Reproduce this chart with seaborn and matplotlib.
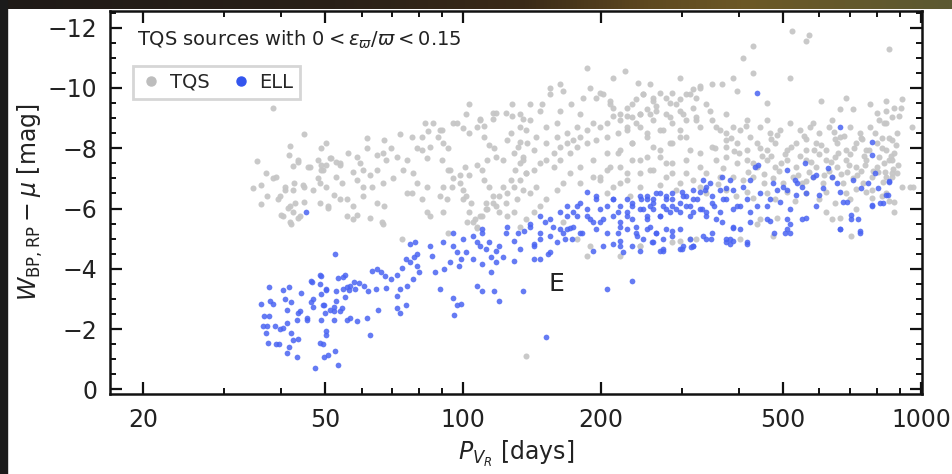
import numpy as np
import pandas as pd
import seaborn as sns
import matplotlib.pyplot as plt
from matplotlib.lines import Line2D
from matplotlib.patches import Rectangle
from matplotlib.ticker import FixedLocator, NullFormatter, FixedFormatter
from matplotlib.colors import LinearSegmentedColormap

# (period [days], W_BP,RP - mu [mag])
tqs_short = [
    (38.4, -9.34), (45, -8.46), (35.5, -7.57), (37.1, -7.18), (36.2, -6.79), (34.8, -6.69), (39, -7.05),
    (40.9, -6.72), (37.3, -6.43), (36.2, -6.16), (39.8, -6.4), (42.5, -6.62), (44.7, -6.79), (45, -6.23),
    (41.8, -6.07), (42.5, -5.9), (40.4, -5.74), (41.8, -5.54), (44, -5.74), (41.8, -8.07), (41.6, -7.77),
    (43.5, -7.61), (42.5, -7.41), (46.3, -7.38), (48.2, -7.61), (49, -8.0), (50.3, -8.16), (51.2, -7.67),
    (49, -7.28), (48.2, -7.0), (50.3, -6.72), (48.7, -6.2), (50.6, -6.07), (52.3, -6.46), (52.9, -7.05),
    (53.8, -7.44), (56, -7.84), (58.6, -7.7), (59.5, -7.51), (57.4, -7.21), (60.4, -7.28), (58.6, -6.95),
    (62.6, -7.11), (64.8, -7.28), (61.6, -8.0), (64.8, -7.77), (66.8, -7.84), (68, -7.61), (61.6, -8.33),
    (67.3, -8.26), (69.5, -8.0), (72.8, -8.46), (77.3, -8.36), (71.7, -7.7), (75.4, -7.61), (74, -7.28),
    (77.6, -7.18), (70.3, -7.0), (66.8, -6.85), (63.4, -6.72), (60.4, -6.72), (60.4, -6.4), (54.3, -6.85),
    (55.7, -6.3), (57.4, -6.07), (58.6, -5.8), (57.4, -5.64), (64.8, -6.2), (67.3, -6.07), (62.6, -5.7),
    (66.5, -5.54), (79.3, -8.0), (81.5, -7.93), (83.3, -7.67), (84.6, -8.03), (81.5, -8.36), (82.5, -8.82),
    (86, -8.82), (84, -8.56), (89, -8.59), (88, -8.36), (92.6, -8.0), (90.4, -8.16), (79.3, -6.85),
    (77.3, -6.52), (83.3, -6.72), (81.5, -6.3), (84.6, -5.74), (83.3, -5.87), (89, -6.4), (90.4, -5.87),
    (75.4, -6.52), (92.6, -7.28), (95, -7.0), (94.5, -6.72), (98.4, -6.85), (92.6, -5.2), (73.5, -4.98),
    (66.8, -5.5), (43.7, -7.54), (45.9, -7.38), (38.4, -7.0), (40.9, -6.62), (42.8, -6.85), (45, -6.72),
    (47, -6.62), (48.7, -6.85), (49.5, -7.28), (49, -7.44), (50.3, -7.44), (51.5, -7.67), (52.9, -7.54),
    (53.8, -7.51), (53.8, -6.3), (50.6, -6.03), (39.4, -6.3), (43, -6.2), (41.4, -6.03), (40, -5.8),
    (43.7, -5.7), (42, -5.5), (55.8, -5.74), (90, -8.59), (95, -8.82), (90, -7.61), (93.6, -7.28),
    (90.4, -6.72), (92, -6.3),
]

tqs_upper = [
    (100, -6.62), (101.6, -6.4), (104, -6.2), (103, -5.87), (106, -5.64), (107.5, -5.4), (102, -5.54),
    (100, -6.3), (98.4, -7.11), (101, -7.38), (103, -7.11), (107, -7.44), (110, -7.28), (112.5, -7.61),
    (111, -6.95), (114, -6.72), (116, -6.4), (112, -6.2), (118, -6.07), (120, -5.87), (124, -6.2),
    (122, -6.72), (127, -6.95), (130, -7.28), (133, -7.51), (137, -7.18), (135, -7.7), (129, -7.84),
    (122, -7.61), (118, -7.7), (114, -8.1), (111, -8.36), (107, -8.69), (103, -8.52), (100, -8.66),
    (97, -8.82), (101.6, -9.15), (109, -8.92), (111, -8.75), (116, -8.98), (118, -9.18), (124, -9.18),
    (128, -9.48), (128, -9.08), (135, -8.98), (133, -8.69), (127, -8.52), (117, -8.0), (133, -8.2),
    (138, -8.16), (135, -6.62), (131, -6.3), (129, -5.9), (125, -5.74), (113, -5.97), (110, -5.74),
    (107, -5.37), (103, -9.48), (109, -8.98), (116, -9.18),
    (155, -10.0), (163, -10.13), (155, -9.8), (165, -9.9), (189, -10.0), (199, -9.84), (195, -9.67),
    (209, -9.57), (213, -9.34), (228, -9.34), (239, -9.64), (247, -9.8), (260, -9.67), (269, -9.84),
    (286, -9.84), (307, -9.8), (317, -9.97), (322, -9.67), (297, -9.64), (283, -9.5), (264, -9.4),
    (252, -9.3), (243, -9.15), (234, -9.02), (228, -9.08), (220, -8.92), (213, -9.08), (206, -8.85),
    (199, -8.69), (192, -8.82), (186, -8.59), (180, -8.36), (174, -8.26), (169, -8.16), (163, -8.03),
    (158, -7.84), (152, -7.61), (147, -7.51), (143, -7.28), (137, -7.18), (133, -6.95), (129, -6.72),
    (125, -6.52), (120, -6.4), (116, -6.2), (112, -5.97), (109, -5.74), (105, -5.54), (125, -8.26),
    (133, -9.15), (140, -8.92), (147, -9.25), (137, -8.59), (144, -8.36), (152, -8.69), (160, -8.82),
    (169, -8.49), (177, -8.69), (180, -9.15), (172, -9.48), (183, -9.67), (163, -9.25), (149, -9.48),
    (140, -9.48), (132, -8.03), (135, -7.61), (143, -7.93), (152, -8.16), (160, -8.36), (158, -7.38),
    (163, -7.61), (171, -7.84), (177, -8.03), (186, -8.16), (195, -8.26), (206, -8.36), (218, -8.49),
    (228, -8.59), (243, -8.69), (260, -8.92), (278, -9.15), (297, -9.25), (317, -9.34), (340, -9.48),
    (286, -8.82), (269, -8.59), (252, -8.36), (234, -8.16), (220, -7.93), (206, -7.84), (192, -7.61),
    (180, -7.38), (171, -7.18), (165, -6.85), (160, -6.62), (152, -6.3), (147, -6.07), (143, -5.87),
    (137, -5.64), (133, -5.4), (140, -6.52), (144, -6.72), (180, -6.85), (192, -7.05), (206, -7.28),
    (220, -7.38), (234, -7.61), (252, -7.7), (269, -7.93), (286, -8.16), (307, -8.36), (329, -8.69),
    (350, -8.92), (376, -9.15), (307, -8.92), (322, -9.02), (256, -9.15), (239, -8.82), (297, -8.59),
    (199, -6.95), (213, -6.72), (228, -6.95), (243, -7.18), (260, -7.28), (278, -7.51), (286, -7.18),
    (307, -7.61), (329, -7.84), (350, -8.03), (376, -8.26), (364, -8.59), (388, -8.69),
    (202, -9.8), (209, -9.48), (220, -9.15), (234, -9.48), (247, -9.8), (260, -9.57), (278, -9.67),
    (292, -9.48), (313, -9.8), (329, -10.0), (243, -9.15), (264, -9.25), (283, -9.02), (302, -9.15),
    (322, -8.92), (346, -9.25), (228, -8.69), (252, -8.49), (273, -8.59), (297, -8.36), (234, -8.16),
    (260, -8.03), (283, -8.16), (313, -7.93), (218, -7.84), (243, -7.61), (269, -7.7), (286, -7.51),
    (209, -7.38), (228, -7.18), (256, -7.28), (278, -7.05), (220, -6.85), (243, -6.72), (269, -6.79),
    (292, -6.62), (329, -6.72), (340, -6.52), (206, -6.52), (199, -7.05), (231, -6.4),
]

tqs_lower = [
    (357, -8.69), (376, -8.49), (402, -8.59), (423, -8.36), (444, -8.69), (467, -8.49), (491, -8.59),
    (517, -8.82), (543, -8.59), (571, -8.69), (600, -8.49), (631, -8.69), (664, -8.36), (698, -8.69),
    (734, -8.49), (772, -8.69), (811, -8.92), (840, -8.82), (866, -9.02), (840, -9.25), (417, -8.92),
    (460, -8.92), (580, -8.82), (640, -8.92), (376, -8.03), (396, -8.16), (417, -7.93), (438, -8.16),
    (460, -7.93), (480, -8.16), (510, -7.93), (534, -8.16), (562, -7.93), (590, -8.16), (620, -7.93),
    (655, -8.16), (685, -7.93), (722, -8.16), (760, -7.93), (800, -8.16), (840, -7.93), (866, -8.26),
    (357, -7.61), (376, -7.7), (396, -7.51), (417, -7.61), (438, -7.38), (460, -7.61), (480, -7.38),
    (510, -7.61), (534, -7.38), (562, -7.61), (590, -7.38), (620, -7.61), (655, -7.38), (685, -7.61),
    (722, -7.38), (760, -7.61), (800, -7.38), (832, -7.51), (866, -7.61), (329, -7.38), (340, -7.18),
    (307, -7.18), (317, -6.95), (297, -6.85), (364, -7.05), (388, -7.05), (408, -6.95), (430, -7.05),
    (453, -6.85), (474, -7.01), (499, -6.85), (525, -7.05), (551, -6.85), (580, -7.05), (610, -6.85),
    (640, -7.05), (675, -6.85), (710, -7.01), (747, -6.85), (780, -7.05), (825, -6.89), (866, -7.05),
    (376, -6.62), (417, -6.56), (460, -6.52), (510, -6.56), (562, -6.52), (620, -6.56), (685, -6.52),
    (760, -6.56), (840, -6.52), (910, -6.72), (945, -6.72), (960, -6.7),
    (474, -5.08), (444, -5.64), (484, -5.7), (722, -5.97), (705, -5.08), (664, -5.7), (875, -5.9),
    (640, -5.64), (438, -5.48), (402, -4.98), (313, -4.98), (243, -4.75), (297, -4.92), (620, -5.87),
    (780, -6.62), (840, -7.05), (866, -7.18), (165, -5.54), (177, -4.98), (189, -4.75), (186, -4.43),
    (220, -4.43), (243, -4.75), (286, -4.9), (322, -4.98),
    (390, -7.9), (450, -7.75), (505, -7.8), (545, -7.75), (600, -7.8), (650, -7.7), (700, -7.8),
    (750, -7.75), (420, -7.2), (490, -7.25), (570, -7.2), (630, -7.25), (690, -7.2), (740, -7.25),
    (805, -7.2), (470, -8.3), (560, -8.3), (650, -8.3), (740, -8.35), (820, -8.35),
    (355, -8.0), (370, -7.35), (385, -8.35), (400, -7.85), (415, -8.75), (430, -7.5), (445, -8.0),
    (455, -7.15), (470, -7.75), (485, -8.45), (495, -7.5), (520, -8.05), (540, -7.1), (555, -8.4),
    (575, -7.55), (585, -7.95), (605, -8.1), (615, -7.1), (635, -7.55), (645, -8.55), (660, -7.85),
    (670, -7.15), (680, -8.4), (695, -7.45), (715, -8.0), (725, -7.1), (745, -8.3), (755, -7.45),
    (770, -7.95), (785, -7.25), (795, -8.5), (810, -7.7), (820, -8.0), (835, -7.2), (850, -8.35),
    (860, -7.75), (870, -7.3), (880, -8.1), (890, -7.45), (430, -6.35), (480, -6.3), (530, -6.25),
    (600, -6.3), (650, -6.2), (700, -6.3), (780, -6.35), (850, -6.25), (560, -6.9), (720, -6.65),
    (360, -6.8), (395, -6.4),
]

tqs_outliers = [
    (186, -10.66), (226, -10.56), (212, -10.33), (241, -10.16), (256, -10.13), (297, -10.33),
    (329, -10.07), (350, -10.13), (367, -10.13), (388, -10.33), (430, -10.5), (517, -10.33),
    (396, -9.9), (460, -9.5), (606, -9.57), (685, -9.67), (772, -9.48), (840, -9.57), (910, -9.64),
    (664, -9.3), (710, -9.3), (800, -9.18), (875, -9.34), (897, -9.08), (522, -11.9), (560, -11.57),
    (568, -11.74), (853, -11.3), (430, -11.4), (408, -10.98), (137, -1.1), (905, -9.34), (955, -8.72),
    (832, -8.85), (885, -8.49), (875, -7.84), (853, -7.61), (885, -7.18), (875, -6.23), (820, -6.4),
]

ell_short = [
    (52.6, -4.5), (37.7, -3.4), (40.4, -3.3), (41.6, -3.4), (46.5, -3.6), (48.7, -3.8), (48.7, -3.5),
    (50.3, -3.3), (53.2, -3.7), (55.2, -3.8), (55.8, -3.4), (40.9, -3.0), (44.2, -3.2), (47.0, -3.0),
    (36.2, -2.85), (37.9, -2.95), (38.4, -2.85), (42.0, -2.9), (49.5, -2.8), (51.2, -2.65), (52.9, -2.95),
    (55.2, -3.05), (41.2, -2.65), (43.7, -2.55), (46.5, -2.9), (36.7, -2.45), (37.7, -2.45), (43.3, -2.3),
    (45.6, -2.3), (49.0, -2.3), (52.3, -2.3), (55.8, -2.3), (36.5, -2.1), (37.3, -2.1), (38.8, -2.1),
    (39.8, -2.0), (40.4, -2.05), (41.2, -2.2), (37.1, -1.87), (42.0, -1.87), (42.5, -1.64), (43.7, -1.67),
    (50.3, -1.8), (37.5, -1.54), (39.0, -1.5), (39.6, -1.5), (41.6, -1.4), (41.2, -1.2), (43.3, -1.08),
    (48.7, -1.54), (49.7, -1.08), (52.6, -1.28), (53.4, -0.82), (47.4, -0.72), (52.3, -2.6), (50.0, -2.55),
    (54.3, -2.7), (56.3, -3.3), (45.4, -5.9), (44, -2.6), (45.6, -2.36), (47, -2.75), (49, -3.18),
    (50.3, -1.93), (49.5, -1.5), (50.6, -1.15),
    (46.8, -3.57), (49, -3.77), (54.6, -3.74), (56.6, -3.44), (57.7, -3.57), (59.2, -3.54), (63.2, -3.93),
    (64.8, -4.0), (66.1, -3.9), (67.6, -3.77), (69.5, -3.67), (71.7, -3.8), (73.5, -4.03), (75, -4.33),
    (76.5, -4.23), (78, -4.4), (79.3, -4.1), (80, -3.9), (77.6, -3.67), (75.4, -3.44), (72.8, -3.34),
    (71.7, -3.1), (68, -3.38), (64.4, -3.34), (61.9, -3.25), (60.8, -3.44), (58.2, -3.34), (54.6, -3.34),
    (52.9, -3.25), (50.3, -3.34), (49.7, -2.8), (52.3, -2.75), (53.8, -2.6), (56.6, -2.36), (58.6, -2.26),
    (61.6, -2.36), (65.2, -2.62), (71.7, -2.69), (72.8, -2.52), (75, -2.79), (62.6, -1.8), (78.5, -4.9),
    (79.3, -4.5), (86.8, -3.9), (89, -3.34), (90.8, -4.0), (95, -3.02), (96.9, -2.79), (98.8, -2.85),
    (95.5, -2.46), (90.4, -4.9), (95, -4.75), (98.8, -4.33), (96.9, -4.56), (84.6, -4.75), (85.5, -4.43),
    (76.5, -4.82), (93.6, -4.23), (98, -4.1), (95, -5.2),
]

ell_mid = [
    (101.6, -4.56), (105, -4.33), (100, -4.98), (107, -4.9), (110, -5.2), (112, -4.66), (115, -4.4),
    (118, -4.23), (115, -3.9), (107, -3.44), (110, -3.25), (117, -3.28), (120, -2.95), (135, -3.25),
    (120, -4.75), (124, -5.2), (129, -4.92), (125, -5.4), (132, -5.2), (133, -4.66), (140, -5.4),
    (143, -4.82), (147, -5.2), (147, -5.74), (151, -5.54), (155, -5.08), (153, -4.5), (143, -4.33),
    (157, -5.4), (163, -5.87), (169, -6.07), (165, -5.2), (171, -5.37), (173, -4.98), (177, -5.74),
    (182, -5.2), (186, -6.56), (195, -6.4), (189, -5.64), (199, -5.54), (206, -6.07), (212, -6.3),
    (218, -5.87), (220, -5.4), (228, -5.74), (234, -6.07), (239, -5.4), (252, -6.3), (206, -3.34),
    (234, -3.6), (152, -1.74), (105, -5.08), (110, -5.31), (109, -4.75), (114, -4.9), (118, -4.6),
    (136, -5.25), (140, -5.48), (147, -4.98), (143, -4.75), (163, -5.31), (160, -4.9), (167, -4.98),
    (155, -4.56), (147, -4.33), (129, -4.26), (122, -4.4), (110, -4.16), (177, -6.07), (155, -5.64),
    (340, -6.72), (329, -6.56), (317, -6.3), (302, -6.4), (286, -6.52), (278, -6.3), (269, -6.52),
    (260, -6.3), (243, -6.4), (234, -6.2), (228, -6.3), (220, -6.07), (213, -6.3), (199, -5.97),
    (195, -6.3), (186, -5.97), (180, -6.2), (174, -5.87), (169, -5.74), (186, -5.74), (192, -5.54),
    (202, -5.64), (213, -5.74), (220, -5.54), (228, -5.87), (234, -5.64), (243, -5.97), (252, -5.74),
    (260, -5.97), (269, -5.74), (278, -5.97), (286, -6.07), (297, -5.87), (307, -6.07), (317, -5.87),
    (329, -5.97), (340, -5.74), (350, -6.2), (364, -5.87), (376, -6.3), (388, -5.97), (174, -5.4),
    (180, -5.2), (169, -5.31), (195, -5.31), (206, -5.2), (218, -5.2), (228, -5.31), (239, -5.2),
    (252, -5.31), (264, -5.2), (278, -5.31), (286, -5.08), (220, -4.92), (234, -4.75), (213, -4.82),
    (202, -4.75), (192, -4.6), (224, -4.56), (243, -4.6), (260, -4.9), (269, -4.6), (297, -4.66),
    (317, -4.75), (340, -4.98), (350, -5.2), (376, -4.98), (388, -5.4), (220, -4.75), (376, -4.9),
    (417, -4.9), (477, -5.2),
]

ell_long = [
    (780, -8.2), (780, -7.77), (795, -7.18), (805, -6.69), (845, -6.46), (850, -6.89), (780, -6.13),
    (815, -6.2), (765, -6.85), (740, -6.69), (710, -6.95), (690, -6.23), (675, -6.23), (664, -6.56),
    (655, -6.85), (640, -7.05), (625, -7.34), (610, -6.69), (600, -6.46), (590, -6.07), (705, -5.8),
    (705, -5.64), (728, -5.64), (664, -5.31), (734, -5.2), (580, -7.05), (590, -7.1), (557, -7.5),
    (551, -6.72), (562, -6.52), (534, -6.46), (537, -6.85), (530, -6.95), (510, -7.28), (510, -6.62),
    (499, -6.72), (491, -6.23), (517, -5.97), (510, -5.64), (551, -5.64), (562, -5.7), (510, -5.31),
    (517, -5.48), (504, -5.2), (484, -6.62), (474, -6.85), (467, -6.3), (460, -6.07), (467, -5.57),
    (444, -6.52), (438, -6.07), (433, -7.38), (440, -7.44), (423, -6.95), (423, -5.87), (417, -6.3),
    (408, -6.72), (402, -6.07), (396, -6.07), (388, -6.62), (382, -6.95), (376, -6.69), (367, -7.05),
    (364, -6.62), (369, -6.3), (353, -6.07), (350, -6.4), (346, -6.85), (337, -6.62), (334, -6.95),
    (332, -5.97), (340, -5.87), (324, -6.3), (317, -6.62), (313, -6.07), (313, -5.74), (307, -6.4),
    (300, -6.56), (297, -6.2), (292, -5.97), (286, -6.3), (283, -5.87), (278, -6.4), (273, -6.07),
    (269, -5.74), (264, -6.52), (260, -6.2), (256, -6.07), (252, -5.64), (247, -5.97), (245, -6.3),
    (252, -6.4), (256, -5.4), (264, -5.2), (273, -4.98), (258, -4.9), (273, -4.66), (286, -5.25),
    (297, -5.31), (313, -4.98), (302, -4.75), (317, -4.75), (334, -5.08), (348, -4.98), (382, -4.82),
    (382, -4.98), (388, -4.92), (417, -4.82), (402, -5.31), (388, -5.37), (367, -5.54), (357, -5.64),
    (423, -5.54), (462, -5.64), (517, -5.2), (438, -9.84), (667, -8.7), (853, -6.9), (780, -6.07),
    (825, -6.2), (667, -5.31), (734, -5.25), (840, -6.46), (240, -5.08), (247, -4.98), (273, -4.6),
    (300, -4.66), (315, -4.72),
]

x_major = [20, 50, 100, 200, 500, 1000]
x_minor = [30, 40, 60, 70, 80, 90, 300, 400, 600, 700, 800, 900]

tqs = pd.DataFrame(tqs_short + tqs_upper + tqs_lower + tqs_outliers, columns=['P', 'W'])
ell = pd.DataFrame(ell_short + ell_mid + ell_long, columns=['P', 'W'])

sns.set_style('ticks')
plt.rcParams['font.family'] = ['DejaVu Sans']
plt.rcParams['mathtext.fontset'] = 'dejavusans'

fig = plt.figure(figsize=(9.53, 4.74), dpi=100)
ax = fig.add_axes([110 / 953, 1 - 394 / 474, 812 / 953, 383 / 474])

gray = '#c6c6c6'
blue = '#4a64f2'
sns.scatterplot(data=tqs, x='P', y='W', ax=ax, color=gray, s=19, linewidth=0, alpha=0.95, legend=False)
sns.scatterplot(data=ell, x='P', y='W', ax=ax, color=blue, s=17, linewidth=0, alpha=0.85, legend=False)

ax.set_xscale('log')
ax.set_xlim(16.94, 1005)
ax.set_ylim(0.15, -12.55)
ax.xaxis.set_major_locator(FixedLocator(x_major))
ax.xaxis.set_major_formatter(FixedFormatter([str(v) for v in x_major]))
ax.xaxis.set_minor_locator(FixedLocator(x_minor))
ax.xaxis.set_minor_formatter(NullFormatter())
ax.yaxis.set_major_locator(FixedLocator(np.arange(0, -13, -2)))
ax.yaxis.set_minor_locator(FixedLocator(np.arange(0, -13, -0.5)))

for s in ax.spines.values():
    s.set_linewidth(1.8)
    s.set_color('#111111')
ax.tick_params(which='both', direction='in', top=True, right=True, colors='#111111', labelcolor='#222222')
ax.tick_params(which='major', length=8.5, width=1.6, labelsize=17)
ax.tick_params(which='minor', length=4.5, width=1.4)
ax.tick_params(axis='x', which='major', pad=10)
ax.tick_params(axis='y', which='major', pad=9)

ax.set_xlabel(r'$P_{V_R}$ [days]', fontsize=17, labelpad=5, color='#222222')
ax.set_ylabel(r'$W_{\rm BP,RP} - \mu$ [mag]', fontsize=17, labelpad=2, color='#222222')

ax.text(0.033, 0.924, r'TQS sources with $0 < \varepsilon_\varpi/\varpi < 0.15$',
        transform=ax.transAxes, fontsize=14, va='center', color='#222222')
ax.text(160, -3.5, 'E', fontsize=18, ha='center', va='center', color='#222222')

handles = [Line2D([], [], marker='o', ls='', color='#bdbdbd', markersize=6.5),
           Line2D([], [], marker='o', ls='', color='#3355ee', markersize=6.5)]
leg = ax.legend(handles, ['TQS', 'ELL'], loc='upper left', bbox_to_anchor=(0.028, 0.856), ncol=2,
                fontsize=14, frameon=True, fancybox=False, handlelength=1.2, handletextpad=0.35,
                columnspacing=1.0, borderpad=0.35, borderaxespad=0)
leg.get_frame().set_edgecolor('#cccccc')
leg.get_frame().set_linewidth(2)

# dark screenshot border (top strip and left strip)
strip = fig.add_axes([0, 1 - 9 / 474, 1, 9 / 474])
cmap = LinearSegmentedColormap.from_list('strip', [(0, '#1f1a17'), (0.35, '#2a2018'), (0.55, '#3a2a18'),
                                                   (0.68, '#5e4820'), (0.78, '#6c5826'), (1, '#5c5a32')])
strip.imshow(np.linspace(0, 1, 256)[None, :], aspect='auto', cmap=cmap, extent=[0, 1, 0, 1])
strip.set_axis_off()
strip.set_zorder(10)
fig.add_artist(Rectangle((0, 0), 7 / 953, 1, transform=fig.transFigure, color='#1b1b1b', zorder=11))

fig.savefig('out.png', dpi=100, facecolor='white')
